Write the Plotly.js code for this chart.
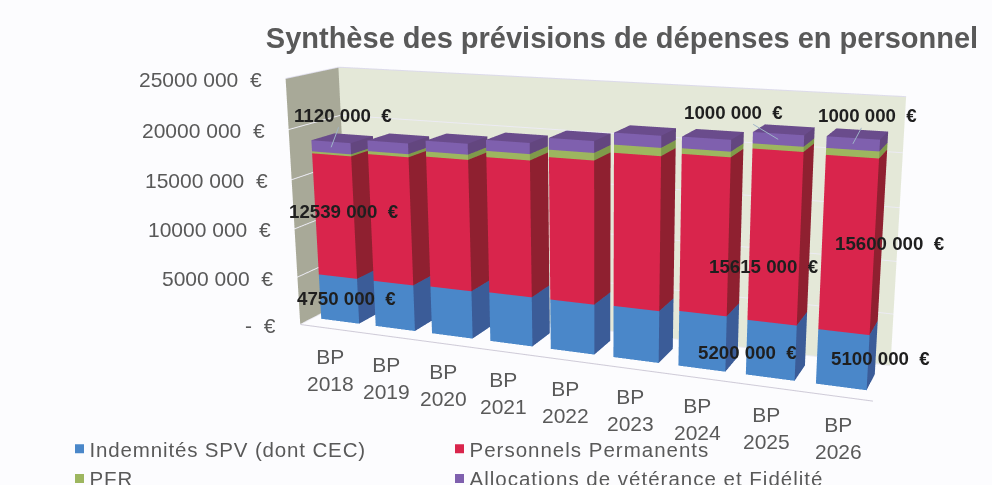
<!DOCTYPE html>
<html><head><meta charset="utf-8">
<script src="https://cdn.plot.ly/plotly-3.0.1.min.js"></script>
<style>html,body{margin:0;padding:0;width:992px;height:485px;overflow:hidden;background:#fcfcfe}
#g{position:absolute;left:0;top:-308px;width:1200px;height:1077px}
.legendtext{letter-spacing:.85px}
.legend2text{letter-spacing:1px}
.legendsymbols{transform:translateX(10px)}</style>
</head><body><div id="g"></div>
<script>
const categories=["2018","2019","2020","2021","2022","2023","2024","2025","2026"];
const indemnites=[4750000,4750000,4850000,4950000,4950000,5050000,5300000,5200000,5100000];
const permanents=[12539000,12900000,13000000,13300000,13750000,14500000,14600000,15615000,15600000];
const pfr=[200000,300000,500000,600000,700000,750000,500000,450000,600000];
const allocations=[1120000,1050000,1050000,1050000,1100000,1100000,1050000,1000000,1000000];
const zTicks=[0,5000000,10000000,15000000,20000000,25000000];
const zTickText=["-  €","5000 000  €","10000 000  €","15000 000  €","20000 000  €","25000 000  €"];
const seriesNames=["Indemnités SPV (dont CEC)","Personnels Permanents","PFR","Allocations de vétérance et Fidélité"];

const W=1200,H=1077,TOP=308;
const series=[indemnites,permanents,pfr,allocations];
const fronts=["#4a87c9","#d9254c","#9db65f","#7f60ae"];
const sides=["#3b5c98","#8f2030","#7f9a4a","#63467f"];
const tops=["#4a87c9","#d9254c","#9db65f","#6a4c8c"];
const legendOf=["legend","legend2","legend","legend2"];
const barW=0.7,y0=0.25,y1=0.70;

const traces=[];
const base=categories.map(()=>0);
series.forEach((vals,s)=>{
  const X=[],Y=[],Z=[],I=[],J=[],K=[],C=[];
  vals.forEach((v,c)=>{
    const x0=c+0.5-barW/2,x1=c+0.5+barW/2,z0=base[c],z1=base[c]+v,n=X.length;
    [[x0,y0,z0],[x1,y0,z0],[x1,y0,z1],[x0,y0,z1],[x1,y1,z0],[x1,y1,z1],[x0,y1,z1]].forEach(p=>{X.push(p[0]);Y.push(p[1]);Z.push(p[2]);});
    [[0,1,2,fronts[s]],[0,2,3,fronts[s]],[1,4,5,sides[s]],[1,5,2,sides[s]],[3,2,5,tops[s]],[3,5,6,tops[s]]].forEach(f=>{I.push(n+f[0]);J.push(n+f[1]);K.push(n+f[2]);C.push(f[3]);});
    base[c]=z1;
  });
  traces.push({type:"mesh3d",name:seriesNames[s],x:X,y:Y,z:Z,i:I,j:J,k:K,facecolor:C,flatshading:true,showlegend:false,showscale:false,hoverinfo:"skip",
    lighting:{ambient:1,diffuse:0,specular:0,roughness:1,fresnel:0}});
});
traces.push({type:"scatter3d",mode:"lines",x:[0,9],y:[0,0],z:[0,0],line:{color:"#cfcbd8",width:2},showlegend:false,hoverinfo:"skip"});
traces.push({type:"scatter3d",mode:"lines",x:[0,0,9],y:[0,1,1],z:[25000000,25000000,25000000],line:{color:"#dcdaea",width:2},showlegend:false,hoverinfo:"skip"});
seriesNames.forEach((n,s)=>traces.push({type:"scatter3d",mode:"markers",name:n,legend:legendOf[s],x:[null],y:[null],z:[null],
  marker:{symbol:"square",size:9,color:fronts[s],line:{width:0}},showlegend:true,hoverinfo:"skip"}));

const tickFont={family:"Liberation Sans, Arial, sans-serif",size:21,color:"#595959"};
const labFont={family:"Liberation Sans, Arial, sans-serif",size:18.7,color:"#1f1f1f"};
const ann=[];
zTicks.forEach((z,i)=>ann.push({x:0,y:0,z:z,text:zTickText[i],showarrow:false,xanchor:"right",xshift:-22,yshift:-1,font:tickFont}));
categories.forEach((c,i)=>ann.push({x:i+0.5,y:0,z:0,text:"BP<br>"+c,showarrow:false,xanchor:"center",yanchor:"middle",yshift:-42,xshift:3,font:tickFont}));
function lab(cat,s,frac,text,dx,dy,arrow){
  let z=0;for(let k=0;k<s;k++)z+=series[k][cat];z+=series[s][cat]*frac;
  const a={x:cat+0.5,y:y0,z:z,text:"<b>"+text+"</b>",font:labFont};
  if(arrow){Object.assign(a,{showarrow:true,arrowhead:0,arrowwidth:1,arrowcolor:"#9fb4c8",ax:dx,ay:dy,standoff:0});}
  else{Object.assign(a,{showarrow:false,xshift:dx,yshift:-dy});}
  ann.push(a);
}
lab(0,3,0.5,"1120 000  €",12,-32,true);
lab(0,1,0.55,"12539 000  €",10,1,false);
lab(0,0,0.5,"4750 000  €",8,-1,false);
lab(7,3,0.5,"1000 000  €",-45,-27,true);
lab(8,3,0.5,"1000 000  €",15,-28,true);
lab(7,1,0.45,"15615 000  €",-11,20,false);
lab(8,1,0.45,"15600 000  €",43,-11,false);
lab(7,0,0.5,"5200 000  €",-23,2,false);
lab(8,0,0.5,"5100 000  €",38,-1,false);

const legFont={family:"Liberation Sans, Arial, sans-serif",size:20.5,color:"#595959"};
const ax={showticklabels:false,ticks:"",title:{text:""},showspikes:false,zeroline:false,showline:false};
const layout={width:W,height:H,margin:{l:0,r:0,t:0,b:0},paper_bgcolor:"#fcfcfe",
  title:{text:"<b>Synthèse des prévisions de dépenses en personnel</b>",font:{family:"Liberation Sans, Arial, sans-serif",size:29,color:"#595959"},
    x:622/W,xanchor:"center",y:1-(38+TOP)/H,yanchor:"middle"},
  scene:{domain:{x:[0,1],y:[0,1]},aspectmode:"manual",aspectratio:{x:1,y:0.163,z:0.433},
    camera:{eye:{x:0.775,y:-1.918,z:0.505},center:{x:0.033,y:0,z:-0.0167},up:{x:0,y:0,z:1},projection:{type:"perspective"}},
    xaxis:Object.assign({},ax,{range:[0,9],showgrid:false,showbackground:true,backgroundcolor:"#a8a998"}),
    yaxis:Object.assign({},ax,{range:[0,1],showgrid:false,showbackground:true,backgroundcolor:"#e4e8d8"}),
    zaxis:Object.assign({},ax,{range:[0,25000000],tickvals:zTicks,showgrid:true,gridcolor:"#ecebf3",gridwidth:2,showbackground:false}),
    annotations:ann},
  legend:{orientation:"v",x:59.5/W,y:1-(429+TOP)/H,xanchor:"left",yanchor:"top",indentation:-10,font:legFont,bgcolor:"rgba(0,0,0,0)",itemwidth:30},
  legend2:{orientation:"v",x:439.5/W,y:1-(429+TOP)/H,xanchor:"left",yanchor:"top",indentation:-10,font:legFont,bgcolor:"rgba(0,0,0,0)",itemwidth:30},
  showlegend:true};
Plotly.newPlot("g",traces,layout,{displayModeBar:false,responsive:false});
</script></body></html>
